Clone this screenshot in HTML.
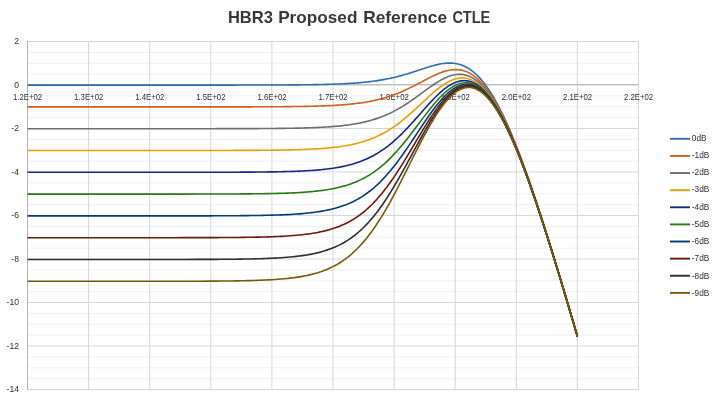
<!DOCTYPE html><html><head><meta charset="utf-8"><title>HBR3 Proposed Reference CTLE</title><style>html,body{margin:0;padding:0;background:#fff;overflow:hidden;}svg{display:block;}text{font-family:"Liberation Sans",sans-serif;}</style></head><body>
<svg width="716" height="401" viewBox="0 0 716 401">
<rect width="716" height="401" fill="#fff"/>
<path d="M27.5 52.375H638.50M27.5 63.250H638.50M27.5 74.125H638.50M27.5 95.875H638.50M27.5 106.750H638.50M27.5 117.625H638.50M27.5 139.375H638.50M27.5 150.250H638.50M27.5 161.125H638.50M27.5 182.875H638.50M27.5 193.750H638.50M27.5 204.625H638.50M27.5 226.375H638.50M27.5 237.250H638.50M27.5 248.125H638.50M27.5 269.875H638.50M27.5 280.750H638.50M27.5 291.625H638.50M27.5 313.375H638.50M27.5 324.250H638.50M27.5 335.125H638.50M27.5 356.875H638.50M27.5 367.750H638.50M27.5 378.625H638.50" stroke="#f0f0f0" stroke-width="1" fill="none"/>
<path d="M27.5 41.500H638.50M27.5 128.500H638.50M27.5 172.000H638.50M27.5 215.500H638.50M27.5 259.000H638.50M27.5 302.500H638.50M27.5 346.000H638.50M27.5 389.500H638.50M88.60 41.0V390M149.70 41.0V390M210.80 41.0V390M271.90 41.0V390M333.00 41.0V390M394.10 41.0V390M455.20 41.0V390M516.30 41.0V390M577.40 41.0V390M638.50 41.0V390" stroke="#d6d6d6" stroke-width="1" fill="none"/>
<rect x="27" y="84" width="611.50" height="1" fill="#bebebe"/><rect x="27" y="85" width="611.50" height="1" fill="#e0e0e0"/>
<rect x="27" y="41" width="1" height="349" fill="#b4b4b4"/>
<text x="19.0" y="44.40" font-size="8.6" fill="#2e2e2e" text-anchor="end">2</text>
<text x="19.0" y="87.90" font-size="8.6" fill="#2e2e2e" text-anchor="end">0</text>
<text x="19.0" y="131.40" font-size="8.6" fill="#2e2e2e" text-anchor="end">-2</text>
<text x="19.0" y="174.90" font-size="8.6" fill="#2e2e2e" text-anchor="end">-4</text>
<text x="19.0" y="218.40" font-size="8.6" fill="#2e2e2e" text-anchor="end">-6</text>
<text x="19.0" y="261.90" font-size="8.6" fill="#2e2e2e" text-anchor="end">-8</text>
<text x="19.0" y="305.40" font-size="8.6" fill="#2e2e2e" text-anchor="end">-10</text>
<text x="19.0" y="348.90" font-size="8.6" fill="#2e2e2e" text-anchor="end">-12</text>
<text x="19.0" y="392.40" font-size="8.6" fill="#2e2e2e" text-anchor="end">-14</text>
<text x="27.60" y="100" font-size="8.5" fill="#2e2e2e" text-anchor="middle" textLength="29.2" lengthAdjust="spacingAndGlyphs">1.2E+02</text>
<text x="88.70" y="100" font-size="8.5" fill="#2e2e2e" text-anchor="middle" textLength="29.2" lengthAdjust="spacingAndGlyphs">1.3E+02</text>
<text x="149.80" y="100" font-size="8.5" fill="#2e2e2e" text-anchor="middle" textLength="29.2" lengthAdjust="spacingAndGlyphs">1.4E+02</text>
<text x="210.90" y="100" font-size="8.5" fill="#2e2e2e" text-anchor="middle" textLength="29.2" lengthAdjust="spacingAndGlyphs">1.5E+02</text>
<text x="272.00" y="100" font-size="8.5" fill="#2e2e2e" text-anchor="middle" textLength="29.2" lengthAdjust="spacingAndGlyphs">1.6E+02</text>
<text x="333.10" y="100" font-size="8.5" fill="#2e2e2e" text-anchor="middle" textLength="29.2" lengthAdjust="spacingAndGlyphs">1.7E+02</text>
<text x="394.20" y="100" font-size="8.5" fill="#2e2e2e" text-anchor="middle" textLength="29.2" lengthAdjust="spacingAndGlyphs">1.8E+02</text>
<text x="455.30" y="100" font-size="8.5" fill="#2e2e2e" text-anchor="middle" textLength="29.2" lengthAdjust="spacingAndGlyphs">1.9E+02</text>
<text x="516.40" y="100" font-size="8.5" fill="#2e2e2e" text-anchor="middle" textLength="29.2" lengthAdjust="spacingAndGlyphs">2.0E+02</text>
<text x="577.50" y="100" font-size="8.5" fill="#2e2e2e" text-anchor="middle" textLength="29.2" lengthAdjust="spacingAndGlyphs">2.1E+02</text>
<text x="638.60" y="100" font-size="8.5" fill="#2e2e2e" text-anchor="middle" textLength="29.2" lengthAdjust="spacingAndGlyphs">2.2E+02</text>
<polyline points="27.50,85.10 39.72,85.10 51.94,85.10 64.16,85.10 76.38,85.10 88.60,85.10 100.82,85.10 113.04,85.10 125.26,85.10 137.48,85.10 149.70,85.10 161.92,85.10 174.14,85.10 186.36,85.10 198.58,85.09 210.80,85.09 213.86,85.09 216.91,85.09 219.97,85.09 223.02,85.09 226.08,85.08 229.13,85.08 232.19,85.08 235.24,85.08 238.30,85.07 241.35,85.07 244.41,85.07 247.46,85.06 250.52,85.06 253.57,85.05 256.62,85.05 259.68,85.04 262.74,85.03 265.79,85.03 268.85,85.02 271.90,85.01 274.96,84.99 278.01,84.98 281.07,84.97 284.12,84.95 287.18,84.93 290.23,84.91 293.29,84.89 296.34,84.87 299.40,84.84 302.45,84.81 303.98,84.79 305.50,84.77 307.03,84.75 308.56,84.73 310.09,84.71 311.62,84.68 313.14,84.66 314.67,84.63 316.20,84.61 317.73,84.58 319.25,84.55 320.78,84.52 322.31,84.48 323.84,84.45 325.36,84.41 326.89,84.37 328.42,84.32 329.94,84.28 331.47,84.23 333.00,84.18 334.53,84.13 336.06,84.07 337.58,84.01 339.11,83.95 340.64,83.88 342.17,83.81 343.69,83.74 345.22,83.66 346.75,83.58 348.28,83.49 349.80,83.40 351.33,83.30 352.86,83.20 354.38,83.10 355.91,82.98 357.44,82.86 358.97,82.74 360.50,82.61 362.02,82.47 363.55,82.32 365.08,82.17 366.61,82.01 368.13,81.84 369.66,81.66 371.19,81.47 372.72,81.28 374.24,81.07 375.77,80.86 377.30,80.63 378.83,80.40 380.35,80.15 381.88,79.90 383.41,79.63 384.94,79.35 386.46,79.06 387.99,78.75 389.52,78.44 391.05,78.11 392.57,77.77 394.10,77.42 395.63,77.05 397.16,76.67 398.68,76.28 400.21,75.88 401.74,75.46 403.27,75.04 404.79,74.60 406.32,74.15 407.85,73.69 409.38,73.23 410.90,72.75 412.43,72.26 413.96,71.77 415.49,71.28 417.01,70.78 418.54,70.27 420.07,69.77 421.60,69.26 423.12,68.76 424.65,68.26 426.18,67.77 427.71,67.29 429.23,66.82 430.76,66.37 432.29,65.93 433.81,65.51 435.34,65.11 436.87,64.74 438.40,64.40 439.93,64.08 441.45,63.81 442.98,63.57 444.51,63.38 446.04,63.23 447.56,63.13 449.09,63.08 450.62,63.09 452.15,63.16 453.67,63.29 455.20,63.48 456.73,63.75 458.25,64.09 459.78,64.50 461.31,65.00 462.84,65.57 464.37,66.23 465.89,66.97 467.42,67.81 468.95,68.73 470.48,69.75 472.00,70.86 473.53,72.07 475.06,73.38 476.59,74.78 478.11,76.29 479.64,77.90 481.17,79.61 482.70,81.42 484.22,83.33 485.75,85.35 487.28,87.47 488.81,89.69 490.33,92.01 491.86,94.44 493.39,96.96 494.92,99.58 496.44,102.30 497.97,105.12 499.50,108.03 501.03,111.04 502.55,114.13 504.08,117.32 505.61,120.59 507.14,123.95 508.66,127.40 510.19,130.92 511.72,134.53 513.25,138.21 514.77,141.97 516.30,145.80 517.83,149.70 519.36,153.68 520.88,157.71 522.41,161.81 523.94,165.98 525.47,170.20 526.99,174.48 528.52,178.81 530.05,183.20 531.58,187.64 533.10,192.13 534.63,196.66 536.16,201.24 537.68,205.87 539.21,210.53 540.74,215.23 542.27,219.97 543.80,224.75 545.32,229.56 546.85,234.40 548.38,239.28 549.90,244.18 551.43,249.11 552.96,254.07 554.49,259.06 556.01,264.07 557.54,269.10 559.07,274.15 560.60,279.23 562.12,284.33 563.65,289.44 565.18,294.57 566.71,299.72 568.24,304.89 569.76,310.07 571.29,315.26 572.82,320.47 574.35,325.69 575.87,330.93 577.40,336.17" fill="none" stroke="#2f6eb5" stroke-width="1.6" stroke-linejoin="round" stroke-linecap="butt"/>
<polyline points="27.50,106.90 39.72,106.90 51.94,106.90 64.16,106.90 76.38,106.90 88.60,106.90 100.82,106.90 113.04,106.90 125.26,106.90 137.48,106.90 149.70,106.90 161.92,106.90 174.14,106.90 186.36,106.89 198.58,106.89 210.80,106.88 213.86,106.88 216.91,106.88 219.97,106.88 223.02,106.88 226.08,106.87 229.13,106.87 232.19,106.87 235.24,106.86 238.30,106.86 241.35,106.85 244.41,106.85 247.46,106.84 250.52,106.83 253.57,106.82 256.62,106.82 259.68,106.81 262.74,106.79 265.79,106.78 268.85,106.77 271.90,106.75 274.96,106.73 278.01,106.71 281.07,106.69 284.12,106.66 287.18,106.63 290.23,106.60 293.29,106.56 296.34,106.52 299.40,106.48 302.45,106.43 303.98,106.40 305.50,106.37 307.03,106.34 308.56,106.31 310.09,106.27 311.62,106.23 313.14,106.20 314.67,106.15 316.20,106.11 317.73,106.06 319.25,106.02 320.78,105.96 322.31,105.91 323.84,105.85 325.36,105.79 326.89,105.73 328.42,105.66 329.94,105.59 331.47,105.51 333.00,105.43 334.53,105.34 336.06,105.25 337.58,105.16 339.11,105.06 340.64,104.95 342.17,104.84 343.69,104.72 345.22,104.60 346.75,104.47 348.28,104.33 349.80,104.18 351.33,104.03 352.86,103.87 354.38,103.70 355.91,103.52 357.44,103.33 358.97,103.13 360.50,102.92 362.02,102.70 363.55,102.47 365.08,102.22 366.61,101.97 368.13,101.70 369.66,101.42 371.19,101.12 372.72,100.81 374.24,100.49 375.77,100.15 377.30,99.79 378.83,99.42 380.35,99.03 381.88,98.63 383.41,98.20 384.94,97.76 386.46,97.30 387.99,96.83 389.52,96.33 391.05,95.81 392.57,95.28 394.10,94.72 395.63,94.15 397.16,93.56 398.68,92.94 400.21,92.31 401.74,91.66 403.27,90.99 404.79,90.31 406.32,89.60 407.85,88.88 409.38,88.14 410.90,87.39 412.43,86.63 413.96,85.86 415.49,85.07 417.01,84.28 418.54,83.47 420.07,82.67 421.60,81.86 423.12,81.05 424.65,80.24 426.18,79.44 427.71,78.65 429.23,77.87 430.76,77.10 432.29,76.34 433.81,75.61 435.34,74.90 436.87,74.22 438.40,73.57 439.93,72.96 441.45,72.38 442.98,71.85 444.51,71.36 446.04,70.92 447.56,70.54 449.09,70.21 450.62,69.95 452.15,69.75 453.67,69.62 455.20,69.56 456.73,69.58 458.25,69.67 459.78,69.85 461.31,70.11 462.84,70.47 464.37,70.91 465.89,71.45 467.42,72.08 468.95,72.81 470.48,73.64 472.00,74.57 473.53,75.61 475.06,76.75 476.59,77.99 478.11,79.35 479.64,80.81 481.17,82.37 482.70,84.05 484.22,85.83 485.75,87.73 487.28,89.73 488.81,91.83 490.33,94.05 491.86,96.37 493.39,98.79 494.92,101.32 496.44,103.95 497.97,106.68 499.50,109.51 501.03,112.44 502.55,115.46 504.08,118.58 505.61,121.78 507.14,125.08 508.66,128.47 510.19,131.93 511.72,135.49 513.25,139.12 514.77,142.83 516.30,146.61 517.83,150.47 519.36,154.40 520.88,158.40 522.41,162.46 523.94,166.59 525.47,170.78 526.99,175.03 528.52,179.33 530.05,183.69 531.58,188.10 533.10,192.57 534.63,197.08 536.16,201.63 537.68,206.24 539.21,210.88 540.74,215.56 542.27,220.28 543.80,225.04 545.32,229.84 546.85,234.67 548.38,239.53 549.90,244.42 551.43,249.34 552.96,254.28 554.49,259.26 556.01,264.25 557.54,269.28 559.07,274.32 560.60,279.39 562.12,284.47 563.65,289.58 565.18,294.71 566.71,299.85 568.24,305.01 569.76,310.18 571.29,315.37 572.82,320.57 574.35,325.79 575.87,331.02 577.40,336.26" fill="none" stroke="#d2601a" stroke-width="1.6" stroke-linejoin="round" stroke-linecap="butt"/>
<polyline points="27.50,128.70 39.72,128.70 51.94,128.70 64.16,128.70 76.38,128.70 88.60,128.70 100.82,128.70 113.04,128.70 125.26,128.70 137.48,128.70 149.70,128.70 161.92,128.70 174.14,128.69 186.36,128.69 198.58,128.69 210.80,128.68 213.86,128.68 216.91,128.67 219.97,128.67 223.02,128.66 226.08,128.66 229.13,128.66 232.19,128.65 235.24,128.64 238.30,128.64 241.35,128.63 244.41,128.62 247.46,128.61 250.52,128.60 253.57,128.59 256.62,128.58 259.68,128.56 262.74,128.54 265.79,128.52 268.85,128.50 271.90,128.48 274.96,128.45 278.01,128.42 281.07,128.39 284.12,128.35 287.18,128.31 290.23,128.26 293.29,128.21 296.34,128.15 299.40,128.08 302.45,128.00 303.98,127.96 305.50,127.92 307.03,127.87 308.56,127.83 310.09,127.78 311.62,127.72 313.14,127.66 314.67,127.60 316.20,127.54 317.73,127.47 319.25,127.40 320.78,127.32 322.31,127.24 323.84,127.16 325.36,127.07 326.89,126.97 328.42,126.87 329.94,126.77 331.47,126.66 333.00,126.54 334.53,126.41 336.06,126.28 337.58,126.14 339.11,126.00 340.64,125.84 342.17,125.68 343.69,125.51 345.22,125.33 346.75,125.13 348.28,124.93 349.80,124.72 351.33,124.50 352.86,124.26 354.38,124.01 355.91,123.75 357.44,123.47 358.97,123.19 360.50,122.88 362.02,122.56 363.55,122.23 365.08,121.87 366.61,121.50 368.13,121.12 369.66,120.71 371.19,120.28 372.72,119.84 374.24,119.37 375.77,118.88 377.30,118.37 378.83,117.84 380.35,117.28 381.88,116.70 383.41,116.10 384.94,115.47 386.46,114.81 387.99,114.14 389.52,113.43 391.05,112.70 392.57,111.94 394.10,111.16 395.63,110.35 397.16,109.51 398.68,108.65 400.21,107.76 401.74,106.85 403.27,105.91 404.79,104.95 406.32,103.97 407.85,102.96 409.38,101.94 410.90,100.89 412.43,99.83 413.96,98.76 415.49,97.67 417.01,96.56 418.54,95.45 420.07,94.34 421.60,93.22 423.12,92.09 424.65,90.97 426.18,89.86 427.71,88.75 429.23,87.66 430.76,86.58 432.29,85.52 433.81,84.49 435.34,83.48 436.87,82.50 438.40,81.56 439.93,80.65 441.45,79.79 442.98,78.98 444.51,78.22 446.04,77.51 447.56,76.87 449.09,76.29 450.62,75.77 452.15,75.33 453.67,74.96 455.20,74.68 456.73,74.47 458.25,74.35 459.78,74.32 461.31,74.39 462.84,74.55 464.37,74.80 465.89,75.16 467.42,75.62 468.95,76.18 470.48,76.85 472.00,77.63 473.53,78.51 475.06,79.51 476.59,80.62 478.11,81.84 479.64,83.18 481.17,84.63 482.70,86.19 484.22,87.87 485.75,89.66 487.28,91.56 488.81,93.57 490.33,95.69 491.86,97.93 493.39,100.27 494.92,102.72 496.44,105.28 497.97,107.94 499.50,110.70 501.03,113.57 502.55,116.53 504.08,119.59 505.61,122.74 507.14,125.99 508.66,129.32 510.19,132.75 511.72,136.25 513.25,139.84 514.77,143.51 516.30,147.26 517.83,151.09 519.36,154.98 520.88,158.95 522.41,162.98 523.94,167.08 525.47,171.24 526.99,175.47 528.52,179.75 530.05,184.08 531.58,188.47 533.10,192.92 534.63,197.41 536.16,201.95 537.68,206.53 539.21,211.16 540.74,215.83 542.27,220.53 543.80,225.28 545.32,230.06 546.85,234.88 548.38,239.72 549.90,244.60 551.43,249.51 552.96,254.45 554.49,259.41 556.01,264.40 557.54,269.42 559.07,274.45 560.60,279.51 562.12,284.59 563.65,289.69 565.18,294.81 566.71,299.95 568.24,305.10 569.76,310.27 571.29,315.45 572.82,320.65 574.35,325.86 575.87,331.09 577.40,336.33" fill="none" stroke="#6e6e6e" stroke-width="1.6" stroke-linejoin="round" stroke-linecap="butt"/>
<polyline points="27.50,150.50 39.72,150.50 51.94,150.50 64.16,150.50 76.38,150.50 88.60,150.50 100.82,150.50 113.04,150.50 125.26,150.50 137.48,150.50 149.70,150.50 161.92,150.50 174.14,150.49 186.36,150.49 198.58,150.48 210.80,150.47 213.86,150.47 216.91,150.46 219.97,150.46 223.02,150.45 226.08,150.44 229.13,150.44 232.19,150.43 235.24,150.42 238.30,150.41 241.35,150.40 244.41,150.39 247.46,150.38 250.52,150.36 253.57,150.34 256.62,150.33 259.68,150.30 262.74,150.28 265.79,150.25 268.85,150.22 271.90,150.19 274.96,150.15 278.01,150.11 281.07,150.06 284.12,150.01 287.18,149.95 290.23,149.88 293.29,149.81 296.34,149.72 299.40,149.63 302.45,149.52 303.98,149.47 305.50,149.41 307.03,149.34 308.56,149.27 310.09,149.20 311.62,149.13 313.14,149.05 314.67,148.96 316.20,148.87 317.73,148.78 319.25,148.68 320.78,148.57 322.31,148.46 323.84,148.34 325.36,148.22 326.89,148.08 328.42,147.94 329.94,147.80 331.47,147.64 333.00,147.48 334.53,147.30 336.06,147.12 337.58,146.93 339.11,146.72 340.64,146.51 342.17,146.28 343.69,146.04 345.22,145.79 346.75,145.53 348.28,145.25 349.80,144.95 351.33,144.64 352.86,144.32 354.38,143.97 355.91,143.61 357.44,143.23 358.97,142.83 360.50,142.42 362.02,141.98 363.55,141.52 365.08,141.03 366.61,140.53 368.13,140.00 369.66,139.44 371.19,138.86 372.72,138.25 374.24,137.62 375.77,136.95 377.30,136.26 378.83,135.54 380.35,134.79 381.88,134.01 383.41,133.20 384.94,132.35 386.46,131.48 387.99,130.57 389.52,129.63 391.05,128.65 392.57,127.65 394.10,126.61 395.63,125.53 397.16,124.43 398.68,123.29 400.21,122.13 401.74,120.93 403.27,119.70 404.79,118.45 406.32,117.17 407.85,115.86 409.38,114.53 410.90,113.18 412.43,111.81 413.96,110.43 415.49,109.02 417.01,107.61 418.54,106.18 420.07,104.75 421.60,103.32 423.12,101.89 424.65,100.46 426.18,99.04 427.71,97.63 429.23,96.23 430.76,94.86 432.29,93.50 433.81,92.18 435.34,90.89 436.87,89.63 438.40,88.41 439.93,87.24 441.45,86.12 442.98,85.05 444.51,84.04 446.04,83.10 447.56,82.22 449.09,81.41 450.62,80.67 452.15,80.01 453.67,79.44 455.20,78.95 456.73,78.55 458.25,78.25 459.78,78.04 461.31,77.92 462.84,77.92 464.37,78.01 465.89,78.21 467.42,78.52 468.95,78.94 470.48,79.48 472.00,80.13 473.53,80.89 475.06,81.77 476.59,82.76 478.11,83.88 479.64,85.11 481.17,86.46 482.70,87.93 484.22,89.51 485.75,91.22 487.28,93.04 488.81,94.97 490.33,97.02 491.86,99.19 493.39,101.46 494.92,103.85 496.44,106.35 497.97,108.95 499.50,111.66 501.03,114.47 502.55,117.39 504.08,120.40 505.61,123.51 507.14,126.71 508.66,130.01 510.19,133.40 511.72,136.87 513.25,140.43 514.77,144.06 516.30,147.78 517.83,151.58 519.36,155.45 520.88,159.39 522.41,163.40 523.94,167.47 525.47,171.61 526.99,175.82 528.52,180.08 530.05,184.40 531.58,188.77 533.10,193.20 534.63,197.67 536.16,202.20 537.68,206.77 539.21,211.38 540.74,216.04 542.27,220.73 543.80,225.47 545.32,230.24 546.85,235.04 548.38,239.88 549.90,244.75 551.43,249.65 552.96,254.58 554.49,259.54 556.01,264.52 557.54,269.53 559.07,274.56 560.60,279.61 562.12,284.69 563.65,289.78 565.18,294.89 566.71,300.03 568.24,305.17 569.76,310.34 571.29,315.52 572.82,320.71 574.35,325.92 575.87,331.14 577.40,336.38" fill="none" stroke="#e8a000" stroke-width="1.6" stroke-linejoin="round" stroke-linecap="butt"/>
<polyline points="27.50,172.30 39.72,172.30 51.94,172.30 64.16,172.30 76.38,172.30 88.60,172.30 100.82,172.30 113.04,172.30 125.26,172.30 137.48,172.30 149.70,172.30 161.92,172.29 174.14,172.29 186.36,172.28 198.58,172.27 210.80,172.26 213.86,172.25 216.91,172.25 219.97,172.24 223.02,172.23 226.08,172.22 229.13,172.22 232.19,172.21 235.24,172.19 238.30,172.18 241.35,172.17 244.41,172.15 247.46,172.13 250.52,172.11 253.57,172.09 256.62,172.06 259.68,172.03 262.74,172.00 265.79,171.96 268.85,171.92 271.90,171.88 274.96,171.83 278.01,171.77 281.07,171.70 284.12,171.63 287.18,171.55 290.23,171.46 293.29,171.36 296.34,171.24 299.40,171.12 302.45,170.97 303.98,170.90 305.50,170.81 307.03,170.73 308.56,170.63 310.09,170.54 311.62,170.43 313.14,170.33 314.67,170.21 316.20,170.09 317.73,169.96 319.25,169.83 320.78,169.68 322.31,169.53 323.84,169.37 325.36,169.20 326.89,169.02 328.42,168.83 329.94,168.64 331.47,168.43 333.00,168.20 334.53,167.97 336.06,167.72 337.58,167.46 339.11,167.19 340.64,166.90 342.17,166.60 343.69,166.27 345.22,165.94 346.75,165.58 348.28,165.21 349.80,164.81 351.33,164.40 352.86,163.96 354.38,163.51 355.91,163.03 357.44,162.52 358.97,161.99 360.50,161.44 362.02,160.86 363.55,160.25 365.08,159.61 366.61,158.94 368.13,158.24 369.66,157.51 371.19,156.75 372.72,155.96 374.24,155.13 375.77,154.26 377.30,153.36 378.83,152.43 380.35,151.45 381.88,150.44 383.41,149.39 384.94,148.31 386.46,147.18 387.99,146.02 389.52,144.81 391.05,143.57 392.57,142.29 394.10,140.97 395.63,139.62 397.16,138.22 398.68,136.79 400.21,135.33 401.74,133.83 403.27,132.30 404.79,130.74 406.32,129.15 407.85,127.53 409.38,125.89 410.90,124.23 412.43,122.54 413.96,120.84 415.49,119.13 417.01,117.40 418.54,115.67 420.07,113.93 421.60,112.20 423.12,110.46 424.65,108.74 426.18,107.02 427.71,105.32 429.23,103.64 430.76,101.99 432.29,100.36 433.81,98.77 435.34,97.22 436.87,95.70 438.40,94.24 439.93,92.83 441.45,91.47 442.98,90.17 444.51,88.94 446.04,87.78 447.56,86.69 449.09,85.68 450.62,84.75 452.15,83.90 453.67,83.15 455.20,82.49 456.73,81.92 458.25,81.45 459.78,81.09 461.31,80.83 462.84,80.68 464.37,80.64 465.89,80.71 467.42,80.90 468.95,81.20 470.48,81.62 472.00,82.16 473.53,82.82 475.06,83.60 476.59,84.50 478.11,85.52 479.64,86.67 481.17,87.94 482.70,89.33 484.22,90.84 485.75,92.48 487.28,94.23 488.81,96.10 490.33,98.09 491.86,100.20 493.39,102.42 494.92,104.76 496.44,107.21 497.97,109.76 499.50,112.43 501.03,115.20 502.55,118.07 504.08,121.05 505.61,124.12 507.14,127.29 508.66,130.56 510.19,133.91 511.72,137.36 513.25,140.89 514.77,144.50 516.30,148.20 517.83,151.97 519.36,155.82 520.88,159.74 522.41,163.73 523.94,167.79 525.47,171.91 526.99,176.10 528.52,180.34 530.05,184.65 531.58,189.01 533.10,193.42 534.63,197.88 536.16,202.39 537.68,206.95 539.21,211.56 540.74,216.20 542.27,220.89 543.80,225.61 545.32,230.38 546.85,235.18 548.38,240.01 549.90,244.87 551.43,249.76 552.96,254.69 554.49,259.64 556.01,264.62 557.54,269.62 559.07,274.64 560.60,279.69 562.12,284.76 563.65,289.85 565.18,294.96 566.71,300.09 568.24,305.23 569.76,310.40 571.29,315.57 572.82,320.76 574.35,325.97 575.87,331.19 577.40,336.42" fill="none" stroke="#15288a" stroke-width="1.6" stroke-linejoin="round" stroke-linecap="butt"/>
<polyline points="27.50,194.10 39.72,194.10 51.94,194.10 64.16,194.10 76.38,194.10 88.60,194.10 100.82,194.10 113.04,194.10 125.26,194.10 137.48,194.10 149.70,194.09 161.92,194.09 174.14,194.09 186.36,194.08 198.58,194.06 210.80,194.04 213.86,194.04 216.91,194.03 219.97,194.02 223.02,194.01 226.08,194.00 229.13,193.99 232.19,193.97 235.24,193.96 238.30,193.94 241.35,193.92 244.41,193.90 247.46,193.87 250.52,193.85 253.57,193.82 256.62,193.78 259.68,193.74 262.74,193.70 265.79,193.65 268.85,193.60 271.90,193.54 274.96,193.47 278.01,193.39 281.07,193.30 284.12,193.21 287.18,193.10 290.23,192.98 293.29,192.84 296.34,192.69 299.40,192.52 302.45,192.33 303.98,192.23 305.50,192.12 307.03,192.00 308.56,191.88 310.09,191.75 311.62,191.62 313.14,191.47 314.67,191.32 316.20,191.16 317.73,190.99 319.25,190.81 320.78,190.62 322.31,190.42 323.84,190.21 325.36,189.98 326.89,189.75 328.42,189.50 329.94,189.24 331.47,188.96 333.00,188.67 334.53,188.36 336.06,188.04 337.58,187.70 339.11,187.34 340.64,186.96 342.17,186.56 343.69,186.14 345.22,185.70 346.75,185.23 348.28,184.74 349.80,184.23 351.33,183.69 352.86,183.12 354.38,182.53 355.91,181.91 357.44,181.26 358.97,180.57 360.50,179.86 362.02,179.11 363.55,178.32 365.08,177.50 366.61,176.65 368.13,175.75 369.66,174.82 371.19,173.85 372.72,172.84 374.24,171.79 375.77,170.70 377.30,169.56 378.83,168.38 380.35,167.16 381.88,165.89 383.41,164.58 384.94,163.23 386.46,161.83 387.99,160.38 389.52,158.90 391.05,157.36 392.57,155.79 394.10,154.17 395.63,152.52 397.16,150.82 398.68,149.08 400.21,147.31 401.74,145.50 403.27,143.66 404.79,141.78 406.32,139.88 407.85,137.95 409.38,136.00 410.90,134.02 412.43,132.03 413.96,130.02 415.49,128.00 417.01,125.98 418.54,123.95 420.07,121.92 421.60,119.89 423.12,117.87 424.65,115.87 426.18,113.88 427.71,111.91 429.23,109.97 430.76,108.06 432.29,106.19 433.81,104.35 435.34,102.56 436.87,100.82 438.40,99.14 439.93,97.51 441.45,95.94 442.98,94.45 444.51,93.02 446.04,91.67 447.56,90.40 449.09,89.22 450.62,88.12 452.15,87.11 453.67,86.20 455.20,85.39 456.73,84.69 458.25,84.08 459.78,83.59 461.31,83.21 462.84,82.94 464.37,82.78 465.89,82.74 467.42,82.83 468.95,83.03 470.48,83.36 472.00,83.81 473.53,84.38 475.06,85.08 476.59,85.90 478.11,86.85 479.64,87.93 481.17,89.13 482.70,90.46 484.22,91.91 485.75,93.49 487.28,95.19 488.81,97.01 490.33,98.95 491.86,101.01 493.39,103.19 494.92,105.48 496.44,107.89 497.97,110.41 499.50,113.04 501.03,115.78 502.55,118.62 504.08,121.57 505.61,124.62 507.14,127.76 508.66,131.00 510.19,134.33 511.72,137.75 513.25,141.26 514.77,144.85 516.30,148.53 517.83,152.28 519.36,156.11 520.88,160.02 522.41,163.99 523.94,168.03 525.47,172.14 526.99,176.32 528.52,180.55 530.05,184.84 531.58,189.19 533.10,193.59 534.63,198.05 536.16,202.55 537.68,207.10 539.21,211.70 540.74,216.33 542.27,221.01 543.80,225.73 545.32,230.49 546.85,235.28 548.38,240.11 549.90,244.96 551.43,249.85 552.96,254.77 554.49,259.72 556.01,264.69 557.54,269.69 559.07,274.71 560.60,279.76 562.12,284.82 563.65,289.91 565.18,295.01 566.71,300.14 568.24,305.28 569.76,310.44 571.29,315.61 572.82,320.80 574.35,326.01 575.87,331.22 577.40,336.45" fill="none" stroke="#267a12" stroke-width="1.6" stroke-linejoin="round" stroke-linecap="butt"/>
<polyline points="27.50,215.90 39.72,215.90 51.94,215.90 64.16,215.90 76.38,215.90 88.60,215.90 100.82,215.90 113.04,215.90 125.26,215.90 137.48,215.90 149.70,215.89 161.92,215.89 174.14,215.88 186.36,215.87 198.58,215.85 210.80,215.83 213.86,215.82 216.91,215.81 219.97,215.79 223.02,215.78 226.08,215.77 229.13,215.75 232.19,215.73 235.24,215.71 238.30,215.69 241.35,215.66 244.41,215.64 247.46,215.60 250.52,215.57 253.57,215.53 256.62,215.48 259.68,215.43 262.74,215.37 265.79,215.31 268.85,215.24 271.90,215.16 274.96,215.07 278.01,214.97 281.07,214.85 284.12,214.73 287.18,214.59 290.23,214.43 293.29,214.25 296.34,214.05 299.40,213.83 302.45,213.58 303.98,213.45 305.50,213.30 307.03,213.15 308.56,212.99 310.09,212.82 311.62,212.65 313.14,212.46 314.67,212.26 316.20,212.05 317.73,211.83 319.25,211.59 320.78,211.35 322.31,211.09 323.84,210.81 325.36,210.52 326.89,210.21 328.42,209.89 329.94,209.55 331.47,209.19 333.00,208.81 334.53,208.42 336.06,208.00 337.58,207.56 339.11,207.09 340.64,206.60 342.17,206.09 343.69,205.55 345.22,204.99 346.75,204.39 348.28,203.77 349.80,203.11 351.33,202.42 352.86,201.70 354.38,200.95 355.91,200.16 357.44,199.33 358.97,198.46 360.50,197.56 362.02,196.62 363.55,195.63 365.08,194.60 366.61,193.53 368.13,192.42 369.66,191.26 371.19,190.05 372.72,188.80 374.24,187.49 375.77,186.15 377.30,184.75 378.83,183.30 380.35,181.80 381.88,180.26 383.41,178.66 384.94,177.02 386.46,175.33 387.99,173.59 389.52,171.80 391.05,169.96 392.57,168.08 394.10,166.15 395.63,164.19 397.16,162.18 398.68,160.13 400.21,158.04 401.74,155.92 403.27,153.76 404.79,151.58 406.32,149.36 407.85,147.13 409.38,144.87 410.90,142.59 412.43,140.30 413.96,138.00 415.49,135.70 417.01,133.39 418.54,131.08 420.07,128.77 421.60,126.48 423.12,124.20 424.65,121.94 426.18,119.70 427.71,117.50 429.23,115.32 430.76,113.18 432.29,111.09 433.81,109.04 435.34,107.04 436.87,105.10 438.40,103.22 439.93,101.40 441.45,99.65 442.98,97.98 444.51,96.39 446.04,94.88 447.56,93.46 449.09,92.12 450.62,90.88 452.15,89.74 453.67,88.70 455.20,87.77 456.73,86.94 458.25,86.23 459.78,85.62 461.31,85.14 462.84,84.77 464.37,84.52 465.89,84.39 467.42,84.39 468.95,84.51 470.48,84.76 472.00,85.13 473.53,85.64 475.06,86.27 476.59,87.03 478.11,87.92 479.64,88.94 481.17,90.09 482.70,91.37 484.22,92.77 485.75,94.30 487.28,95.95 488.81,97.73 490.33,99.64 491.86,101.66 493.39,103.80 494.92,106.06 496.44,108.44 497.97,110.93 499.50,113.53 501.03,116.24 502.55,119.06 504.08,121.98 505.61,125.01 507.14,128.13 508.66,131.35 510.19,134.66 511.72,138.06 513.25,141.55 514.77,145.13 516.30,148.79 517.83,152.53 519.36,156.35 520.88,160.24 522.41,164.20 523.94,168.23 525.47,172.33 526.99,176.49 528.52,180.72 530.05,185.00 531.58,189.34 533.10,193.74 534.63,198.18 536.16,202.68 537.68,207.22 539.21,211.81 540.74,216.44 542.27,221.11 543.80,225.83 545.32,230.58 546.85,235.36 548.38,240.19 549.90,245.04 551.43,249.92 552.96,254.84 554.49,259.78 556.01,264.75 557.54,269.75 559.07,274.76 560.60,279.81 562.12,284.87 563.65,289.95 565.18,295.06 566.71,300.18 568.24,305.32 569.76,310.48 571.29,315.65 572.82,320.84 574.35,326.04 575.87,331.25 577.40,336.48" fill="none" stroke="#053a78" stroke-width="1.6" stroke-linejoin="round" stroke-linecap="butt"/>
<polyline points="27.50,237.70 39.72,237.70 51.94,237.70 64.16,237.70 76.38,237.70 88.60,237.70 100.82,237.70 113.04,237.70 125.26,237.70 137.48,237.69 149.70,237.69 161.92,237.68 174.14,237.68 186.36,237.66 198.58,237.64 210.80,237.60 213.86,237.59 216.91,237.58 219.97,237.56 223.02,237.55 226.08,237.53 229.13,237.51 232.19,237.48 235.24,237.46 238.30,237.43 241.35,237.39 244.41,237.36 247.46,237.31 250.52,237.27 253.57,237.21 256.62,237.16 259.68,237.09 262.74,237.02 265.79,236.93 268.85,236.84 271.90,236.74 274.96,236.62 278.01,236.49 281.07,236.34 284.12,236.18 287.18,235.99 290.23,235.79 293.29,235.56 296.34,235.30 299.40,235.01 302.45,234.69 303.98,234.52 305.50,234.33 307.03,234.14 308.56,233.93 310.09,233.71 311.62,233.48 313.14,233.24 314.67,232.99 316.20,232.71 317.73,232.43 319.25,232.13 320.78,231.81 322.31,231.48 323.84,231.12 325.36,230.75 326.89,230.36 328.42,229.95 329.94,229.51 331.47,229.05 333.00,228.57 334.53,228.07 336.06,227.53 337.58,226.97 339.11,226.38 340.64,225.76 342.17,225.11 343.69,224.43 345.22,223.72 346.75,222.97 348.28,222.18 349.80,221.36 351.33,220.50 352.86,219.59 354.38,218.65 355.91,217.67 357.44,216.64 358.97,215.56 360.50,214.45 362.02,213.28 363.55,212.06 365.08,210.80 366.61,209.49 368.13,208.12 369.66,206.71 371.19,205.24 372.72,203.72 374.24,202.14 375.77,200.51 377.30,198.83 378.83,197.09 380.35,195.30 381.88,193.46 383.41,191.56 384.94,189.62 386.46,187.62 387.99,185.57 389.52,183.47 391.05,181.32 392.57,179.12 394.10,176.89 395.63,174.60 397.16,172.28 398.68,169.92 400.21,167.52 401.74,165.10 403.27,162.64 404.79,160.15 406.32,157.64 407.85,155.11 409.38,152.56 410.90,150.00 412.43,147.44 413.96,144.86 415.49,142.29 417.01,139.71 418.54,137.15 420.07,134.60 421.60,132.06 423.12,129.55 424.65,127.06 426.18,124.60 427.71,122.18 429.23,119.79 430.76,117.45 432.29,115.16 433.81,112.93 435.34,110.75 436.87,108.63 438.40,106.59 439.93,104.61 441.45,102.71 442.98,100.89 444.51,99.16 446.04,97.51 447.56,95.96 449.09,94.50 450.62,93.14 452.15,91.89 453.67,90.74 455.20,89.70 456.73,88.77 458.25,87.96 459.78,87.27 461.31,86.70 462.84,86.25 464.37,85.92 465.89,85.72 467.42,85.65 468.95,85.70 470.48,85.89 472.00,86.20 473.53,86.65 475.06,87.23 476.59,87.94 478.11,88.78 479.64,89.75 481.17,90.86 482.70,92.09 484.22,93.46 485.75,94.95 487.28,96.57 488.81,98.31 490.33,100.19 491.86,102.18 493.39,104.29 494.92,106.53 496.44,108.88 497.97,111.35 499.50,113.93 501.03,116.61 502.55,119.41 504.08,122.31 505.61,125.32 507.14,128.42 508.66,131.63 510.19,134.92 511.72,138.31 513.25,141.79 514.77,145.35 516.30,149.00 517.83,152.73 519.36,156.53 520.88,160.41 522.41,164.37 523.94,168.39 525.47,172.48 526.99,176.63 528.52,180.85 530.05,185.13 531.58,189.46 533.10,193.85 534.63,198.29 536.16,202.78 537.68,207.31 539.21,211.90 540.74,216.52 542.27,221.19 543.80,225.90 545.32,230.65 546.85,235.43 548.38,240.25 549.90,245.10 551.43,249.98 552.96,254.89 554.49,259.83 556.01,264.80 557.54,269.79 559.07,274.81 560.60,279.85 562.12,284.91 563.65,289.99 565.18,295.09 566.71,300.21 568.24,305.35 569.76,310.50 571.29,315.67 572.82,320.86 574.35,326.06 575.87,331.28 577.40,336.50" fill="none" stroke="#6a1808" stroke-width="1.6" stroke-linejoin="round" stroke-linecap="butt"/>
<polyline points="27.50,259.50 39.72,259.50 51.94,259.50 64.16,259.50 76.38,259.50 88.60,259.50 100.82,259.50 113.04,259.50 125.26,259.50 137.48,259.49 149.70,259.49 161.92,259.48 174.14,259.47 186.36,259.45 198.58,259.42 210.80,259.37 213.86,259.36 216.91,259.34 219.97,259.32 223.02,259.30 226.08,259.28 229.13,259.25 232.19,259.22 235.24,259.19 238.30,259.15 241.35,259.10 244.41,259.06 247.46,259.00 250.52,258.94 253.57,258.87 256.62,258.80 259.68,258.71 262.74,258.62 265.79,258.51 268.85,258.39 271.90,258.26 274.96,258.10 278.01,257.94 281.07,257.75 284.12,257.54 287.18,257.30 290.23,257.04 293.29,256.74 296.34,256.41 299.40,256.04 302.45,255.63 303.98,255.41 305.50,255.17 307.03,254.92 308.56,254.66 310.09,254.38 311.62,254.09 313.14,253.78 314.67,253.45 316.20,253.11 317.73,252.74 319.25,252.36 320.78,251.96 322.31,251.53 323.84,251.09 325.36,250.61 326.89,250.12 328.42,249.60 329.94,249.05 331.47,248.47 333.00,247.86 334.53,247.23 336.06,246.56 337.58,245.85 339.11,245.12 340.64,244.34 342.17,243.53 343.69,242.68 345.22,241.79 346.75,240.86 348.28,239.89 349.80,238.87 351.33,237.81 352.86,236.69 354.38,235.54 355.91,234.33 357.44,233.07 358.97,231.76 360.50,230.40 362.02,228.98 363.55,227.51 365.08,225.99 366.61,224.41 368.13,222.77 369.66,221.07 371.19,219.32 372.72,217.51 374.24,215.64 375.77,213.71 377.30,211.73 378.83,209.69 380.35,207.59 381.88,205.44 383.41,203.23 384.94,200.97 386.46,198.66 387.99,196.30 389.52,193.88 391.05,191.42 392.57,188.92 394.10,186.37 395.63,183.78 397.16,181.16 398.68,178.49 400.21,175.80 401.74,173.08 403.27,170.33 404.79,167.56 406.32,164.77 407.85,161.97 409.38,159.15 410.90,156.33 412.43,153.51 413.96,150.69 415.49,147.87 417.01,145.06 418.54,142.27 420.07,139.50 421.60,136.75 423.12,134.02 424.65,131.33 426.18,128.68 427.71,126.07 429.23,123.51 430.76,120.99 432.29,118.53 433.81,116.14 435.34,113.80 436.87,111.54 438.40,109.35 439.93,107.24 441.45,105.21 442.98,103.26 444.51,101.41 446.04,99.65 447.56,97.99 449.09,96.43 450.62,94.97 452.15,93.62 453.67,92.38 455.20,91.26 456.73,90.25 458.25,89.36 459.78,88.60 461.31,87.96 462.84,87.44 464.37,87.05 465.89,86.79 467.42,86.66 468.95,86.66 470.48,86.79 472.00,87.06 473.53,87.46 475.06,88.00 476.59,88.66 478.11,89.47 479.64,90.40 481.17,91.47 482.70,92.67 484.22,94.00 485.75,95.47 487.28,97.06 488.81,98.78 490.33,100.62 491.86,102.59 493.39,104.69 494.92,106.90 496.44,109.23 497.97,111.68 499.50,114.24 501.03,116.91 502.55,119.69 504.08,122.58 505.61,125.57 507.14,128.66 508.66,131.85 510.19,135.13 511.72,138.51 513.25,141.98 514.77,145.53 516.30,149.17 517.83,152.89 519.36,156.68 520.88,160.56 522.41,164.50 523.94,168.52 525.47,172.60 526.99,176.75 528.52,180.96 530.05,185.23 531.58,189.55 533.10,193.94 534.63,198.37 536.16,202.86 537.68,207.39 539.21,211.97 540.74,216.59 542.27,221.26 543.80,225.96 545.32,230.71 546.85,235.48 548.38,240.30 549.90,245.15 551.43,250.03 552.96,254.93 554.49,259.87 556.01,264.84 557.54,269.83 559.07,274.84 560.60,279.88 562.12,284.94 563.65,290.02 565.18,295.12 566.71,300.24 568.24,305.37 569.76,310.53 571.29,315.70 572.82,320.88 574.35,326.08 575.87,331.29 577.40,336.52" fill="none" stroke="#2e2e2e" stroke-width="1.6" stroke-linejoin="round" stroke-linecap="butt"/>
<polyline points="27.50,281.30 39.72,281.30 51.94,281.30 64.16,281.30 76.38,281.30 88.60,281.30 100.82,281.30 113.04,281.30 125.26,281.29 137.48,281.29 149.70,281.28 161.92,281.27 174.14,281.26 186.36,281.24 198.58,281.20 210.80,281.14 213.86,281.12 216.91,281.10 219.97,281.07 223.02,281.04 226.08,281.01 229.13,280.98 232.19,280.94 235.24,280.90 238.30,280.85 241.35,280.79 244.41,280.73 247.46,280.66 250.52,280.58 253.57,280.50 256.62,280.40 259.68,280.29 262.74,280.17 265.79,280.03 268.85,279.88 271.90,279.70 274.96,279.51 278.01,279.30 281.07,279.05 284.12,278.78 287.18,278.48 290.23,278.15 293.29,277.77 296.34,277.35 299.40,276.88 302.45,276.35 303.98,276.07 305.50,275.77 307.03,275.46 308.56,275.12 310.09,274.77 311.62,274.40 313.14,274.01 314.67,273.60 316.20,273.16 317.73,272.70 319.25,272.22 320.78,271.72 322.31,271.18 323.84,270.62 325.36,270.03 326.89,269.41 328.42,268.76 329.94,268.07 331.47,267.35 333.00,266.60 334.53,265.80 336.06,264.97 337.58,264.10 339.11,263.19 340.64,262.24 342.17,261.24 343.69,260.19 345.22,259.10 346.75,257.96 348.28,256.77 349.80,255.53 351.33,254.24 352.86,252.89 354.38,251.49 355.91,250.03 357.44,248.52 358.97,246.95 360.50,245.32 362.02,243.63 363.55,241.88 365.08,240.07 366.61,238.20 368.13,236.27 369.66,234.27 371.19,232.22 372.72,230.11 374.24,227.93 375.77,225.69 377.30,223.40 378.83,221.05 380.35,218.64 381.88,216.17 383.41,213.65 384.94,211.08 386.46,208.45 387.99,205.78 389.52,203.06 391.05,200.30 392.57,197.49 394.10,194.65 395.63,191.76 397.16,188.85 398.68,185.90 400.21,182.93 401.74,179.94 403.27,176.92 404.79,173.89 406.32,170.85 407.85,167.79 409.38,164.74 410.90,161.68 412.43,158.63 413.96,155.58 415.49,152.55 417.01,149.54 418.54,146.54 420.07,143.57 421.60,140.64 423.12,137.73 424.65,134.87 426.18,132.05 427.71,129.28 429.23,126.56 430.76,123.90 432.29,121.30 433.81,118.77 435.34,116.30 436.87,113.92 438.40,111.61 439.93,109.38 441.45,107.24 442.98,105.19 444.51,103.24 446.04,101.39 447.56,99.63 449.09,97.99 450.62,96.45 452.15,95.02 453.67,93.71 455.20,92.52 456.73,91.44 458.25,90.49 459.78,89.67 461.31,88.97 462.84,88.40 464.37,87.96 465.89,87.65 467.42,87.47 468.95,87.43 470.48,87.52 472.00,87.75 473.53,88.11 475.06,88.61 476.59,89.25 478.11,90.02 479.64,90.92 481.17,91.96 482.70,93.14 484.22,94.44 485.75,95.88 487.28,97.45 488.81,99.15 490.33,100.97 491.86,102.92 493.39,105.00 494.92,107.19 496.44,109.51 497.97,111.94 499.50,114.49 501.03,117.14 502.55,119.91 504.08,122.79 505.61,125.77 507.14,128.85 508.66,132.03 510.19,135.30 511.72,138.67 513.25,142.13 514.77,145.67 516.30,149.30 517.83,153.01 519.36,156.80 520.88,160.67 522.41,164.61 523.94,168.62 525.47,172.69 526.99,176.84 528.52,181.04 530.05,185.31 531.58,189.63 533.10,194.01 534.63,198.44 536.16,202.92 537.68,207.45 539.21,212.02 540.74,216.64 542.27,221.31 543.80,226.01 545.32,230.75 546.85,235.53 548.38,240.34 549.90,245.18 551.43,250.06 552.96,254.97 554.49,259.90 556.01,264.87 557.54,269.85 559.07,274.87 560.60,279.90 562.12,284.96 563.65,290.04 565.18,295.14 566.71,300.26 568.24,305.39 569.76,310.54 571.29,315.71 572.82,320.90 574.35,326.10 575.87,331.31 577.40,336.53" fill="none" stroke="#7a5a0a" stroke-width="1.6" stroke-linejoin="round" stroke-linecap="butt"/>
<line x1="670" y1="138.80" x2="690" y2="138.80" stroke="#2f6eb5" stroke-width="1.9"/>
<text x="691.8" y="140.70" font-size="8.3" fill="#2e2e2e">0dB</text>
<line x1="670" y1="155.92" x2="690" y2="155.92" stroke="#d2601a" stroke-width="1.9"/>
<text x="691.8" y="157.94" font-size="8.3" fill="#2e2e2e">-1dB</text>
<line x1="670" y1="173.04" x2="690" y2="173.04" stroke="#6e6e6e" stroke-width="1.9"/>
<text x="691.8" y="175.18" font-size="8.3" fill="#2e2e2e">-2dB</text>
<line x1="670" y1="190.16" x2="690" y2="190.16" stroke="#e8a000" stroke-width="1.9"/>
<text x="691.8" y="192.42" font-size="8.3" fill="#2e2e2e">-3dB</text>
<line x1="670" y1="207.28" x2="690" y2="207.28" stroke="#15288a" stroke-width="1.9"/>
<text x="691.8" y="209.66" font-size="8.3" fill="#2e2e2e">-4dB</text>
<line x1="670" y1="224.40" x2="690" y2="224.40" stroke="#267a12" stroke-width="1.9"/>
<text x="691.8" y="226.90" font-size="8.3" fill="#2e2e2e">-5dB</text>
<line x1="670" y1="241.52" x2="690" y2="241.52" stroke="#053a78" stroke-width="1.9"/>
<text x="691.8" y="244.14" font-size="8.3" fill="#2e2e2e">-6dB</text>
<line x1="670" y1="258.64" x2="690" y2="258.64" stroke="#6a1808" stroke-width="1.9"/>
<text x="691.8" y="261.38" font-size="8.3" fill="#2e2e2e">-7dB</text>
<line x1="670" y1="275.76" x2="690" y2="275.76" stroke="#2e2e2e" stroke-width="1.9"/>
<text x="691.8" y="278.62" font-size="8.3" fill="#2e2e2e">-8dB</text>
<line x1="670" y1="292.88" x2="690" y2="292.88" stroke="#7a5a0a" stroke-width="1.9"/>
<text x="691.8" y="295.86" font-size="8.3" fill="#2e2e2e">-9dB</text>
<text x="227.91" y="22.9" font-size="16.7" font-weight="bold" fill="#383838" textLength="45.02" lengthAdjust="spacingAndGlyphs">HBR3</text>
<text x="278.17" y="22.9" font-size="16.7" font-weight="bold" fill="#383838" textLength="79.23" lengthAdjust="spacingAndGlyphs">Proposed</text>
<text x="363.16" y="22.9" font-size="16.7" font-weight="bold" fill="#383838" textLength="83.87" lengthAdjust="spacingAndGlyphs">Reference</text>
<text x="452.4" y="22.9" font-size="16.7" font-weight="bold" fill="#383838" textLength="37.9" lengthAdjust="spacingAndGlyphs">CTLE</text>
</svg></body></html>
